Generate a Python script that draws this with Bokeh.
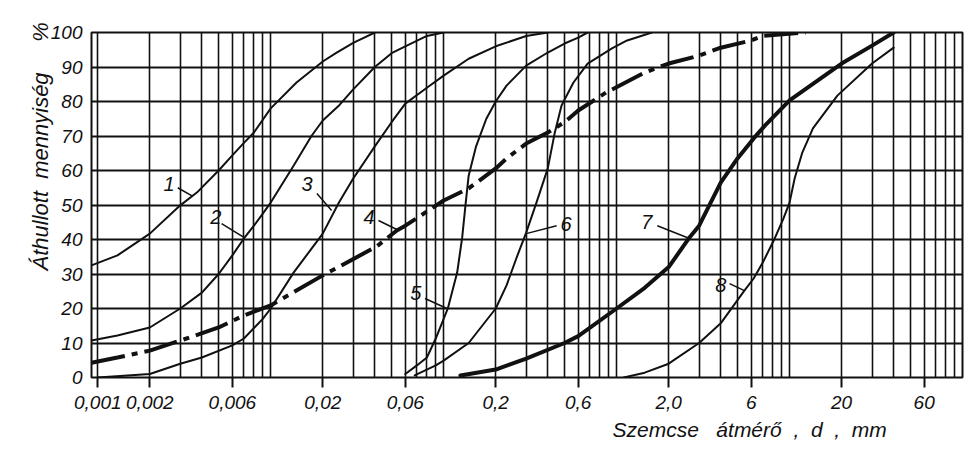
from bokeh.plotting import figure
from bokeh.models import FixedTicker, Range1d, Title
from bokeh.embed import file_html
from bokeh.resources import INLINE
from bokeh.core.properties import value

# ---- data (grain size d in mm, passing percentage) ----
c1_d = [0.00092, 0.0013, 0.002, 0.003, 0.00374, 0.005, 0.006, 0.007, 0.008, 0.01, 0.0141, 0.02, 0.0238, 0.03, 0.04]
c1_p = [32.5, 35.4, 41.7, 49.9, 53.6, 60, 64.4, 68, 71, 78, 85.5, 91.6, 94, 97, 100]

c2_d = [0.00092, 0.0013, 0.002, 0.003, 0.004, 0.005, 0.006, 0.007, 0.008, 0.009, 0.01, 0.01356, 0.0172, 0.02, 0.025, 0.03, 0.04, 0.05, 0.06, 0.08, 0.1]
c2_p = [10.7, 12.2, 14.5, 20, 24.6, 30, 35.4, 40.3, 44, 47.5, 50.7, 61.4, 70, 74.5, 79, 83.5, 90, 94, 96, 99, 100]

c3_d = [0.001, 0.002, 0.003, 0.004, 0.006, 0.007, 0.009, 0.01, 0.01356, 0.02, 0.0248, 0.03, 0.04, 0.05, 0.06, 0.08, 0.1, 0.1395, 0.2, 0.3, 0.4]
c3_p = [0, 1, 4, 5.8, 9.3, 11.3, 17, 20, 30.4, 41.7, 50.7, 57.7, 67, 74, 79.4, 84, 87.5, 92.4, 96, 99, 100]

c4_d = [0.00092, 0.0013, 0.002, 0.003, 0.005, 0.007, 0.01, 0.02, 0.0238, 0.041, 0.0536, 0.06, 0.1, 0.1395, 0.2, 0.231, 0.3, 0.4, 0.5, 0.6, 0.87, 1.454, 2, 3, 4, 6, 7, 12.4]
c4_p = [4.3, 5.8, 7.8, 10.7, 14.5, 18, 20.9, 29.6, 31.6, 38, 42.6, 44, 51.3, 54.8, 60.6, 63.5, 67.8, 71, 74, 77.4, 82.6, 88.4, 91, 93.3, 95.6, 97.7, 99, 100]

c5_d = [0.06, 0.07, 0.08, 0.09, 0.1, 0.1057, 0.1197, 0.128, 0.134, 0.1395, 0.154, 0.1765, 0.2, 0.231, 0.3, 0.4, 0.5, 0.6, 0.68]
c5_p = [1, 3.5, 5.8, 11.3, 17, 20, 30.4, 40.6, 50.4, 58.5, 67, 75, 80, 84.6, 90.4, 94.2, 96.8, 98.5, 100]

c6_d = [0.068, 0.09, 0.1, 0.1395, 0.2, 0.231, 0.263, 0.3, 0.344, 0.4, 0.438, 0.48, 0.563, 0.68, 0.94, 1.15, 1.6]
c6_p = [0.6, 3.5, 4.9, 10, 20, 26.7, 34.5, 42, 50.7, 60.6, 70.7, 78.8, 85.5, 91, 95.4, 97.7, 100]

c7_d = [0.125, 0.2, 0.3, 0.5, 0.6, 1.0, 1.454, 2, 2.64, 3, 4, 5, 6.2, 7.2, 10, 20, 30, 40]
c7_p = [0.6, 2.3, 5.5, 10, 12, 20, 26, 32, 40.6, 44, 56.5, 63.5, 69.3, 73, 80.3, 91, 96.2, 100]

c8_d = [1.1, 1.454, 2, 3, 4, 5.48, 6.2, 7, 8.1, 9.2, 10, 10.7, 11.85, 13.65, 18.9, 30, 40]
c8_p = [0, 1.4, 4, 10, 15.7, 25.2, 28.7, 33.3, 39.7, 46, 50.7, 57.7, 65.2, 72.2, 81.7, 91, 95.6]

# curve number labels and their leader lines (annotation anchors, data space)
lab_text = ["1", "2", "3", "4", "5", "6", "7", "8"]
lab_x = [0.00258, 0.00482, 0.0162, 0.037, 0.069, 0.51, 1.495, 4.0]
lab_y = [56.2, 46.4, 56.2, 46.4, 24.6, 44.6, 45.0, 26.7]
lead_x0 = [0.0029, 0.0052, 0.0185, 0.042, 0.078, 0.45, 1.72, 4.5]
lead_y0 = [55.0, 44.6, 53.3, 45.5, 22.9, 44.0, 44.0, 27.2]
lead_x1 = [0.00355, 0.007, 0.0225, 0.0536, 0.1045, 0.3, 2.64, 5.48]
lead_y1 = [52.5, 40.6, 48.4, 42.9, 20.0, 41.7, 40.3, 25.2]

x_ticks = [0.001, 0.002, 0.006, 0.02, 0.06, 0.2, 0.6, 2, 6, 20, 60]
x_tick_labels = ["0,001", "0,002", "0,006", "0,02", "0,06", "0,2", "0,6", "2,0", "6", "20", "60"]
y_ticks = [0, 10, 20, 30, 40, 50, 60, 70, 80, 90, 100]

x_title = "Szemcse\u00a0\u00a0 átmérő\u00a0 ,\u00a0 d\u00a0 ,\u00a0 mm"
y_title = "Áthullott\u00a0 mennyiség\u00a0\u00a0\u00a0\u00a0 %"

FONT = "Liberation Sans"
INK = "#111111"

p = figure(width=971, height=459, x_axis_type="log",
           x_range=Range1d(0.00092, 100), y_range=Range1d(0, 100),
           output_backend="svg", toolbar_location=None, title=None,
           min_border_left=91, min_border_right=9, min_border_top=32, min_border_bottom=82)
p.background_fill_color = "white"
p.border_fill_color = "white"
p.outline_line_color = INK
p.outline_line_width = 2

grid_x = [m * 10.0 ** k for k in range(-3, 2) for m in range(1, 10)] + [100]
p.xgrid.ticker = FixedTicker(ticks=grid_x)
p.xgrid.grid_line_color = INK
p.xgrid.grid_line_width = 1.6
p.ygrid.ticker = FixedTicker(ticks=y_ticks)
p.ygrid.grid_line_color = INK
p.ygrid.grid_line_width = 2

p.xaxis.ticker = FixedTicker(ticks=x_ticks, minor_ticks=[])
p.xaxis.major_label_overrides = {t: s for t, s in zip(x_ticks, x_tick_labels)}
p.xaxis.axis_line_color = None
p.xaxis.major_tick_out = 10
p.xaxis.major_tick_in = 0
p.xaxis.major_tick_line_width = 2
p.xaxis.major_tick_line_color = INK
p.xaxis.minor_tick_line_color = None
p.xaxis.major_label_standoff = 8

p.yaxis.ticker = FixedTicker(ticks=y_ticks, minor_ticks=[])
p.yaxis.axis_line_color = None
p.yaxis.major_tick_line_color = None
p.yaxis.minor_tick_line_color = None
p.yaxis.major_tick_out = 0
p.yaxis.major_tick_in = 0
p.yaxis.major_label_standoff = 9

for ax in (p.xaxis, p.yaxis):
    ax.major_label_text_font = FONT
    ax.major_label_text_font_style = "italic"
    ax.major_label_text_font_size = "19px"
    ax.major_label_text_color = INK

thin = dict(line_color=INK, line_width=2, line_join="round", line_cap="round")
p.line(c1_d, c1_p, **thin)
p.line(c2_d, c2_p, **thin)
p.line(c3_d, c3_p, **thin)
p.line(c4_d, c4_p, line_color=INK, line_width=4, line_dash="34 7 6 7")
p.line(c5_d, c5_p, **thin)
p.line(c6_d, c6_p, **thin)
p.line(c7_d, c7_p, line_color=INK, line_width=4, line_join="round", line_cap="round")
p.line(c8_d, c8_p, **thin)

p.segment(lead_x0, lead_y0, lead_x1, lead_y1, line_color=INK, line_width=1.5)
p.text(lab_x, lab_y, text=lab_text, text_font=value(FONT), text_font_style="italic",
       text_font_size="20px", text_align="center", text_baseline="middle", text_color=INK)

# axis titles as side-panel titles
p.add_layout(Title(text=x_title, align="left", offset=521, standoff=8,
                   text_font=FONT, text_font_style="italic", text_font_size="21px",
                   text_color=INK), "below")
p.add_layout(Title(text=y_title, align="left", offset=107, standoff=-10,
                   text_font=FONT, text_font_style="italic", text_font_size="22px",
                   text_color=INK), "left")

open("out.html", "w").write(file_html(p, INLINE))
